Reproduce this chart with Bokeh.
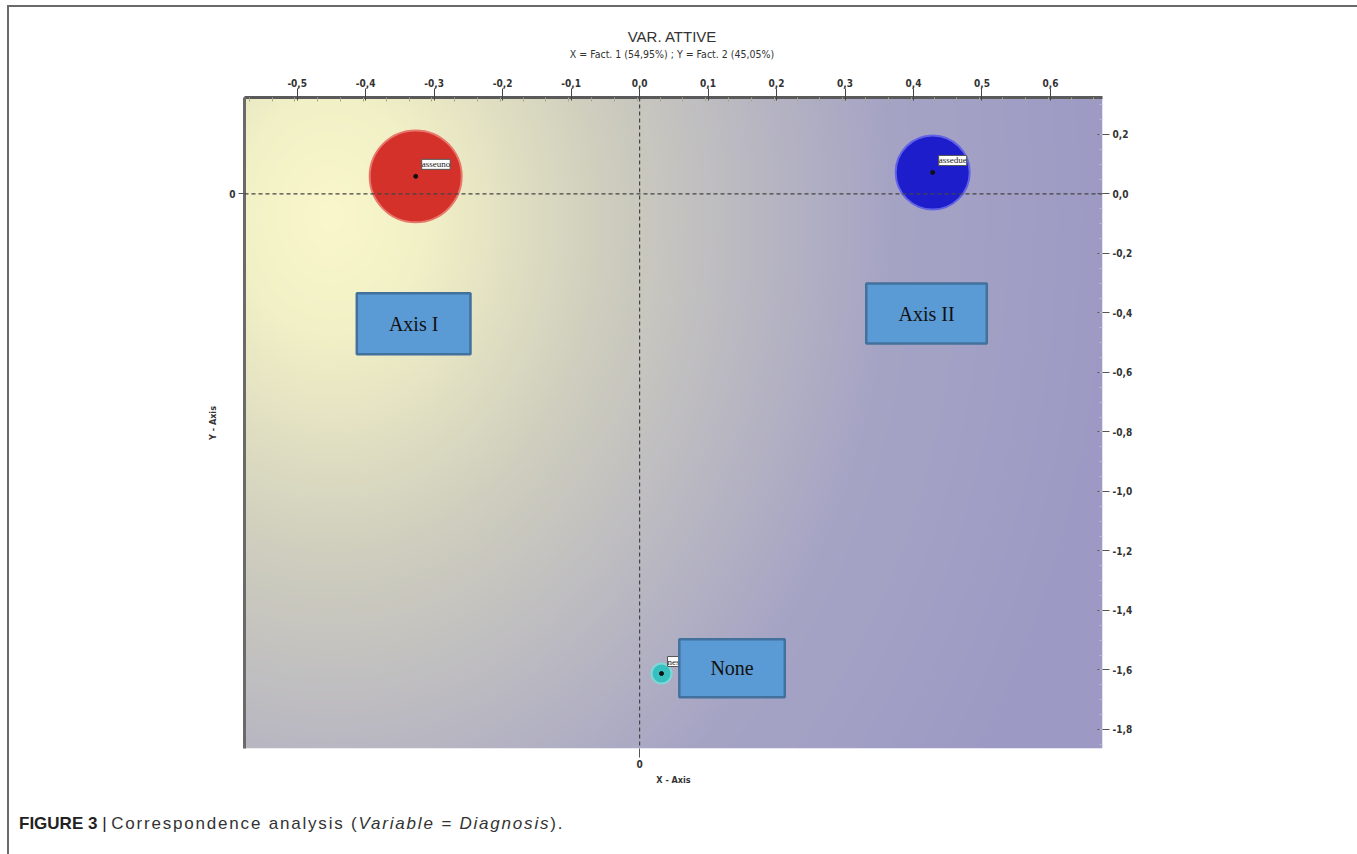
import numpy as np
from bokeh.plotting import figure
from bokeh.layouts import column
from bokeh.models import (Range1d, LinearAxis, FixedTicker, CustomJSTickFormatter, Span,
                          BoxAnnotation, Label, LabelSet, ColumnDataSource, Div)
from bokeh.embed import file_html
from bokeh.resources import INLINE

# ---------------- data ----------------
categories = ["asseuno", "assedue", "nessuna"]
fact1 = [-0.327, 0.428, 0.032]
fact2 = [0.059, 0.072, -1.612]
bubble_px = [92, 74, 20]
fill_colors = ["#d3312a", "#1d1dcc", "#38bfc0"]
edge_colors = ["#e8776c", "#6262e6", "#7fd8d8"]

x_ticks = [-0.5, -0.4, -0.3, -0.2, -0.1, 0.0, 0.1, 0.2, 0.3, 0.4, 0.5, 0.6]
y_ticks = [0.2, 0.0, -0.2, -0.4, -0.6, -0.8, -1.0, -1.2, -1.4, -1.6, -1.8]

boxes = [("Axis I", -0.413, -0.247, -0.539, -0.334),
         ("Axis II", 0.331, 0.507, -0.503, -0.301),
         ("None", 0.058, 0.212, -1.692, -1.497)]

title_text = "VAR. ATTIVE"
subtitle_text = "X = Fact. 1 (54,95%) ; Y = Fact. 2 (45,05%)"

X0, X1 = -0.577, 0.676
Y0, Y1 = -1.864, 0.324
FW, FH = 858, 651

NARROW = "Liberation Sans Narrow, DejaVu Sans Condensed, sans-serif"

p = figure(width=1345, height=740, output_backend="svg", toolbar_location=None,
           x_range=Range1d(X0, X1), y_range=Range1d(Y0, Y1),
           x_axis_location=None, y_axis_location=None,
           min_border_left=235, min_border_top=30, min_border_right=252, min_border_bottom=59)
p.grid.visible = False
p.outline_line_color = None
p.background_fill_color = "#ffffff"
p.border_fill_color = "#ffffff"

# ---------------- background gradient ----------------
nx, ny = 429, 326
xs = np.linspace(X0, X1, nx)
ys = np.linspace(Y0, Y1, ny)
GX, GY = np.meshgrid(xs, ys)
px = (GX - X0) / (X1 - X0) * FW
py = (Y1 - GY) / (Y1 - Y0) * FH
cx, cy = 330 - 244, 215 - 97
d = np.sqrt((px - cx) ** 2 + ((py - cy) * 0.8) ** 2)
t = np.clip(d / 800.0, 0, 1)
stops = [0.0, 0.12, 0.35, 0.7, 1.0]
rs = [249, 242, 206, 166, 156]
gs = [247, 240, 205, 164, 154]
bs = [203, 198, 190, 197, 196]
img = np.empty((ny, nx), dtype=np.uint32)
view = img.view(dtype=np.uint8).reshape((ny, nx, 4))
view[:, :, 0] = np.interp(t, stops, rs).astype(np.uint8)
view[:, :, 1] = np.interp(t, stops, gs).astype(np.uint8)
view[:, :, 2] = np.interp(t, stops, bs).astype(np.uint8)
view[:, :, 3] = 255
p.image_rgba(image=[img], x=X0, y=Y0, dw=X1 - X0, dh=Y1 - Y0)

# ---------------- axes ----------------
fmt = CustomJSTickFormatter(code="""
    if (Math.abs(tick) < 1e-9) { return '0,0'; }
    return tick.toFixed(1).replace('.', ',');
""")
zero_fmt = CustomJSTickFormatter(code="return '0';")

minor_x = [round(-0.57 + k / 30.0, 4) for k in range(0, 38)]
top = LinearAxis(ticker=FixedTicker(ticks=x_ticks, minor_ticks=minor_x), formatter=fmt,
                 axis_line_color="#5a5a5a", axis_line_width=3,
                 major_tick_out=9, major_tick_in=3, major_tick_line_color="#444444",
                 minor_tick_in=4, minor_tick_out=0, minor_tick_line_color="#a8a890",
                 major_label_text_font=NARROW, major_label_text_font_style="bold",
                 major_label_text_font_size="10px", major_label_text_color="#333333",
                 major_label_standoff=2)
p.add_layout(top, "above")

minor_y = [round(0.3 - k * 0.05, 4) for k in range(0, 44)]
right = LinearAxis(ticker=FixedTicker(ticks=y_ticks, minor_ticks=minor_y), formatter=fmt,
                   axis_line_color=None,
                   major_tick_out=7, major_tick_in=5, major_tick_line_color="#555555",
                   minor_tick_in=3, minor_tick_out=0, minor_tick_line_color="#b8b8d0",
                   major_label_text_font=NARROW, major_label_text_font_style="bold",
                   major_label_text_font_size="10px", major_label_text_color="#333333",
                   major_label_standoff=3)
p.add_layout(right, "right")

left = LinearAxis(ticker=FixedTicker(ticks=[0.0], minor_ticks=[]), formatter=zero_fmt,
                  axis_line_color="#6a6a6a", axis_line_width=3,
                  major_tick_out=6, major_tick_in=0, major_tick_line_color="#555555",
                  major_label_text_font=NARROW, major_label_text_font_style="bold",
                  major_label_text_font_size="10px", major_label_text_color="#333333",
                  major_label_standoff=3, major_label_orientation="horizontal",
                  axis_label="Y - Axis", axis_label_text_font=NARROW,
                  axis_label_text_font_style="bold", axis_label_text_font_size="9px",
                  axis_label_text_color="#333333", axis_label_standoff=8)
p.add_layout(left, "left")

bottom = LinearAxis(ticker=FixedTicker(ticks=[0.0], minor_ticks=[]), formatter=zero_fmt,
                    axis_line_color=None,
                    major_tick_out=9, major_tick_in=0, major_tick_line_color="#555555",
                    major_label_text_font=NARROW, major_label_text_font_style="bold",
                    major_label_text_font_size="10px", major_label_text_color="#333333",
                    major_label_standoff=2,
                    axis_label="X - Axis", axis_label_text_font=NARROW,
                    axis_label_text_font_style="bold", axis_label_text_font_size="9px",
                    axis_label_text_color="#333333", axis_label_standoff=4)
p.add_layout(bottom, "below")

# ---------------- reference lines ----------------
p.add_layout(Span(location=0, dimension="width", line_color="#444444", line_width=1.2,
                  line_dash="4 3"))
p.add_layout(Span(location=0, dimension="height", line_color="#444444", line_width=1.2,
                  line_dash="4 3"))

# ---------------- bubbles ----------------
src = ColumnDataSource(dict(x=fact1, y=fact2, name=categories, size=bubble_px,
                            fill=fill_colors, edge=edge_colors))
p.scatter(x="x", y="y", size="size", fill_color="fill", line_color="edge", line_width=2,
          source=src)
p.scatter(x="x", y="y", size=4, fill_color="#111111", line_color="#111111", source=src)

p.add_layout(LabelSet(x="x", y="y", text="name", source=src, x_offset=6, y_offset=7,
                      text_font_size="9px", text_font="Liberation Sans", text_color="#222222",
                      text_baseline="bottom",
                      background_fill_color="#ffffff", border_line_color="#555555",
                      border_line_width=1))

# ---------------- annotation boxes ----------------
for txt, l, r, b, t_ in boxes:
    p.add_layout(BoxAnnotation(left=l, right=r, bottom=b, top=t_, fill_color="#5b9bd5",
                               fill_alpha=1.0, line_color="#41719c", line_width=2.5,
                               line_alpha=1.0))
for txt, l, r, b, t_ in boxes:
    p.add_layout(Label(x=(l + r) / 2, y=(b + t_) / 2, text=txt, text_align="center",
                       text_baseline="middle", text_font="Liberation Serif",
                       text_font_size="20px", text_color="#111111"))

# ---------------- title block ----------------
header = Div(text=('<div style="height:22px"></div>'
                   '<div style="font-family:Liberation Sans, Arial, sans-serif;font-size:15px;'
                   'line-height:16px;color:#333">' + title_text + '</div>'
                   '<div style="font-family:Liberation Sans Narrow, DejaVu Sans Condensed, sans-serif;'
                   'font-size:10.5px;line-height:12px;margin-top:3px;color:#333">'
                   + subtitle_text + '</div>'),
             width=1326, height=60,
             styles={"text-align": "center", "margin": "0px", "padding": "0px"})

# ---------------- caption ----------------
caption = Div(text=('<span style="font-weight:bold;color:#222;letter-spacing:0px">FIGURE 3</span>'
                    '<span style="color:#222;letter-spacing:0px"> | </span>'
                    '<span style="letter-spacing:1.8px">Correspondence analysis '
                    '(<i>Variable = Diagnosis</i>).</span>'),
              width=1345, height=40,
              styles={"font-family": "Liberation Sans, Arial, sans-serif",
                      "font-size": "17px", "color": "#333333",
                      "padding-left": "5px", "padding-top": "0px"})

layout = column(header, p, caption, spacing=0,
                styles={"border-top": "2px solid #6a6a6a", "border-left": "2px solid #6a6a6a",
                        "border-right": "2px solid #6a6a6a", "margin-left": "7px",
                        "margin-top": "5px", "background-color": "#ffffff"})

open("out.html", "w").write(file_html(layout, INLINE))
